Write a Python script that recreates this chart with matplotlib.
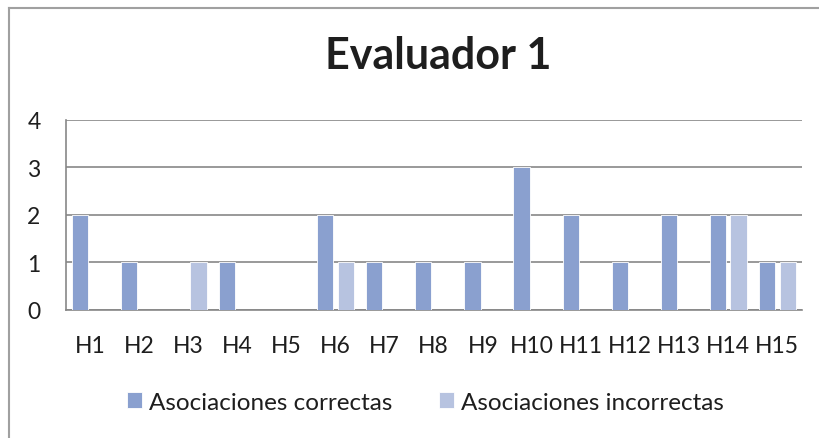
import numpy as np
import matplotlib.pyplot as plt
from matplotlib.lines import Line2D

# data
categories = ['H1', 'H2', 'H3', 'H4', 'H5', 'H6', 'H7', 'H8',
              'H9', 'H10', 'H11', 'H12', 'H13', 'H14', 'H15']
correctas = [2, 1, 0, 1, 0, 2, 1, 1, 1, 3, 2, 1, 2, 2, 1]
incorrectas = [0, 0, 1, 0, 0, 1, 0, 0, 0, 0, 0, 0, 0, 2, 1]
yticks = [0, 1, 2, 3, 4]

plt.rcParams['font.family'] = ['Lato', 'DejaVu Sans']
text_col = '#1e1e1e'
grid_col = '#878787'

fig = plt.figure(figsize=(8.2, 4.39), dpi=100)
ax = fig.add_axes([0.0799, 0.2923, 0.898, 0.4327])

x = np.arange(len(categories))
w = 0.33
ax.bar(x - 0.21, correctas, w, color='#8aa0cf', edgecolor='white', linewidth=0.6,
       label='Asociaciones correctas', zorder=3)
ax.bar(x + 0.21, incorrectas, w, color='#b7c3e0', edgecolor='white', linewidth=0.6,
       label='Asociaciones incorrectas', zorder=3)

ax.set_xlim(-0.5, len(categories) - 0.5)
ax.set_ylim(0, 4)
ax.set_yticks(yticks)
ax.set_xticks(x)
ax.set_xticklabels(categories)
ax.yaxis.grid(True, color=grid_col, linewidth=1.2, zorder=0)
ax.tick_params(length=0, labelsize=16.5, colors=text_col, pad=18)
for s in ['top', 'right']:
    ax.spines[s].set_visible(False)
for s in ['left', 'bottom']:
    ax.spines[s].set_color(grid_col)
    ax.spines[s].set_linewidth(1.2)

fig.text(0.5348, 0.842, 'Evaluador 1', ha='center', va='baseline',
         fontsize=31, fontweight='bold', color=text_col)

leg = fig.legend(loc='center', bbox_to_anchor=(0.519, 0.082), ncol=2, frameon=False,
                 fontsize=17.5, handlelength=0.62, handleheight=0.62,
                 handletextpad=0.3, columnspacing=1.9, labelcolor=text_col)

# outer chart border (only top and left visible in the crop)
fig.add_artist(Line2D([0.0113, 0.0113], [0.0, 0.980], transform=fig.transFigure,
                      color='#a0a0a0', linewidth=1.5))
fig.add_artist(Line2D([0.0113, 1.0], [0.980, 0.980], transform=fig.transFigure,
                      color='#a0a0a0', linewidth=1.5))

fig.savefig('out.png', dpi=100)
